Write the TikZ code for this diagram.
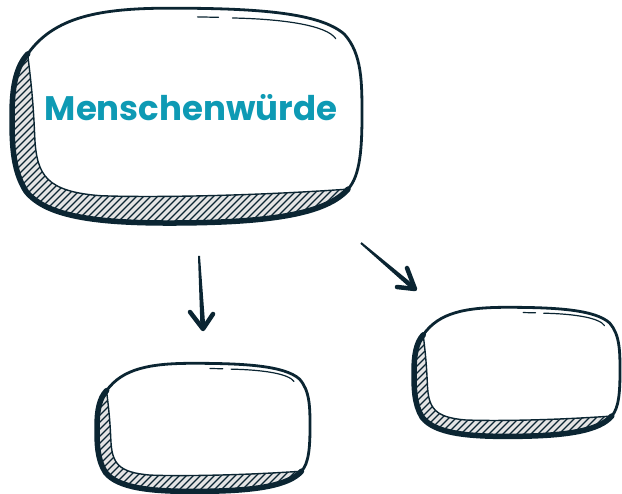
\documentclass[tikz,border=0pt]{standalone}
\usepackage{fontspec}
\newfontfamily\titlefont{Poppins}
\usetikzlibrary{calc}
\definecolor{ink}{HTML}{0B2532}
\definecolor{titleteal}{HTML}{0E9AB4}
\definecolor{hatchbg}{HTML}{E4E4E4}
\tikzset{
  outerp/.style={insert path={(0.045,0.22) .. controls (0.12,0.05) and (0.25,0.01) .. (0.45,0.01)
    .. controls (0.7,0.01) and (0.88,0.03) .. (0.95,0.13)
    .. controls (1.0,0.22) and (1.0,0.35) .. (1.0,0.5)
    .. controls (1.0,0.65) and (0.995,0.78) .. (0.96,0.84)
    .. controls (0.9,0.95) and (0.75,0.99) .. (0.5,0.995)
    .. controls (0.25,1.0) and (0.1,0.97) .. (0.04,0.85)
    .. controls (0.0,0.75) and (0.0,0.62) .. (0.0,0.5)
    .. controls (0.0,0.38) and (0.01,0.28) .. (0.045,0.22) -- cycle}},
  innerp/.style={insert path={(0.045,0.22) .. controls (0.12,0.05) and (0.25,0.01) .. (0.45,0.01)
    .. controls (0.7,0.01) and (0.88,0.03) .. (0.95,0.13)
    .. controls (1.0,0.22) and (1.0,0.35) .. (1.0,0.5)
    .. controls (1.0,0.65) and (0.995,0.78) .. (0.96,0.84)
    .. controls (0.7,0.87) and (0.4,0.88) .. (0.25,0.87)
    .. controls (0.1,0.85) and (0.07,0.78) .. (0.065,0.6)
    .. controls (0.06,0.4) and (0.05,0.3) .. (0.045,0.22) -- cycle}},
  thickp/.style={insert path={(0.96,0.84) .. controls (0.9,0.95) and (0.75,0.99) .. (0.5,0.995)
    .. controls (0.25,1.0) and (0.1,0.97) .. (0.04,0.85)
    .. controls (0.0,0.75) and (0.0,0.62) .. (0.0,0.5)
    .. controls (0.0,0.38) and (0.01,0.28) .. (0.045,0.22)}},
  innerline/.style={insert path={(0.96,0.84) .. controls (0.7,0.87) and (0.4,0.88) .. (0.25,0.87)
    .. controls (0.1,0.85) and (0.07,0.78) .. (0.065,0.6)
    .. controls (0.06,0.4) and (0.05,0.3) .. (0.045,0.22)}},
  inkline/.style={draw=ink, line cap=round, line join=round},
  wing/.style={inkline, line width=4.5pt},
}
\newcommand\sketchbox[5]{%
\begin{scope}[shift={(#2pt,-#3pt)}, x={(#4pt,0pt)}, y={(0pt,-#5pt)}]
  \path[fill=hatchbg, outerp];
  \begin{scope}
    \clip[outerp];
    \foreach \i in {-260,-253,...,380} \draw[ink, line width=1.3pt] (\i pt,-260pt) -- ++(270pt,270pt);
  \end{scope}
  \path[fill=white, innerp];
  \path[inkline, line width=2.8pt, outerp];
  \path[inkline, line width=5.5pt, thickp];
  \path[inkline, line width=1.4pt, innerline];
  \draw[inkline, line width=1.2pt] (0.53,0.05) -- (0.59,0.052);
  \draw[inkline, line width=1.2pt] (0.63,0.055) .. controls (0.78,0.06) and (0.9,0.09) .. (0.925,0.15);
  \coordinate (#1) at (0.5,0.5);
\end{scope}}
\begin{document}
\begin{tikzpicture}[x=1pt, y=-1pt]
\useasboundingbox (0,0) rectangle (622,494);
\sketchbox{main}{12}{6}{350}{218}
\sketchbox{leftbox}{97}{362}{213}{130}
\sketchbox{rightbox}{414}{306}{206}{131}
\node[font=\titlefont\bfseries\fontsize{34}{40}\selectfont, text=titleteal] (title) at (191,108) {Menschenwürde};
% down arrow
\coordinate (d1) at (199,256);
\coordinate (d2) at (203,329);
\coordinate (dl) at (190,312);
\coordinate (dr) at (213,314);
\fill[ink] ($(d1)+(-1,0)$) -- ($(d1)+(1,0)$) -- ($(d2)+(2.5,0)$) -- ($(d2)+(-2.5,0)$) -- cycle;
\draw[wing] (dl) -- (d2) -- (dr);
% diagonal arrow
\coordinate (g1) at (361,243);
\coordinate (g2) at (415,289);
\coordinate (gl) at (407,268);
\coordinate (gr) at (397,287);
\fill[ink] ($(g1)+(-0.65,0.76)$) -- ($(g1)+(0.65,-0.76)$) -- ($(g2)+(1.6,-1.9)$) -- ($(g2)+(-1.6,1.9)$) -- cycle;
\draw[wing] (gl) -- (g2) -- (gr);
\end{tikzpicture}
\end{document}
